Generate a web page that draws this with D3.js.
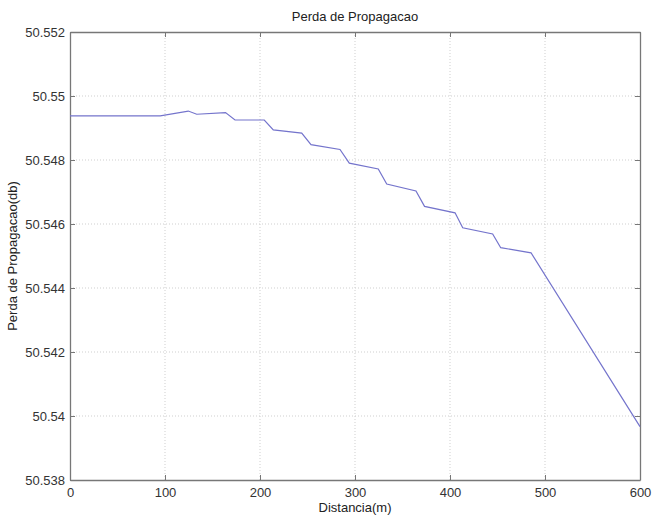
<!DOCTYPE html>
<html><head><meta charset="utf-8">
<script src="https://cdn.jsdelivr.net/npm/d3@7/dist/d3.min.js"></script>
<style>body{margin:0;background:#fff;}svg{display:block;font-family:"Liberation Sans",Arial,sans-serif;}</style>
</head><body>
<svg id="c" width="667" height="517"></svg>
<script>
const distancia = [0, 95, 124.5, 133.4, 163.7, 173.7, 204.5, 214, 243.9, 253.7, 284.2, 294, 324.5, 333.4, 364.2, 373.2, 405.3, 413.4, 444.9, 453.4, 485.3, 600];
const perda = [50.54938, 50.54938, 50.54953, 50.54943, 50.54948, 50.54925, 50.54925, 50.54894, 50.54884, 50.54848, 50.54833, 50.54790, 50.54772, 50.54725, 50.54703, 50.54655, 50.54635, 50.54588, 50.54569, 50.54526, 50.54510, 50.53967];
const xTicks = [0, 100, 200, 300, 400, 500, 600];
const yTicks = [50.538, 50.54, 50.542, 50.544, 50.546, 50.548, 50.55, 50.552];
const yTickLabels = ["50.538", "50.54", "50.542", "50.544", "50.546", "50.548", "50.55", "50.552"];

const svg = d3.select("#c");
const L = 70, R = 640, T = 32, B = 480;
const x = d3.scaleLinear().domain([0, 600]).range([L, R]);
const y = d3.scaleLinear().domain([50.538, 50.552]).range([B, T]);

// grid
const grid = svg.append("g");
grid.selectAll("line.gx").data(xTicks.slice(1, -1)).join("line")
  .attr("x1", d => x(d)).attr("x2", d => x(d)).attr("y1", T).attr("y2", B)
  .attr("stroke", "#cfcfcf").attr("stroke-width", 1).attr("stroke-dasharray", "1,2");
grid.selectAll("line.gy").data(yTicks.slice(1, -1)).join("line")
  .attr("y1", d => y(d)).attr("y2", d => y(d)).attr("x1", L).attr("x2", R)
  .attr("stroke", "#cfcfcf").attr("stroke-width", 1).attr("stroke-dasharray", "1,2");

// axes
const ax = svg.append("g").attr("transform", `translate(0,${B})`)
  .call(d3.axisBottom(x).tickValues(xTicks).tickSize(-5).tickSizeOuter(0).tickPadding(8));
const ay = svg.append("g").attr("transform", `translate(${L},0)`)
  .call(d3.axisLeft(y).tickValues(yTicks).tickFormat((d, i) => yTickLabels[i]).tickSize(-5).tickSizeOuter(0).tickPadding(5));
const axTop = svg.append("g").attr("transform", `translate(0,${T})`)
  .call(d3.axisTop(x).tickValues(xTicks).tickSize(-5).tickSizeOuter(0).tickFormat(""));
const ayR = svg.append("g").attr("transform", `translate(${R},0)`)
  .call(d3.axisRight(y).tickValues(yTicks).tickSize(-5).tickSizeOuter(0).tickFormat(""));
[ax, ay, axTop, ayR].forEach(g => {
  g.select(".domain").attr("stroke", "#777").attr("stroke-width", 1.3);
  g.selectAll(".tick line").attr("stroke", "#777");
  g.selectAll(".tick text").attr("fill", "#333").attr("font-size", 13);
});

// line
svg.append("path").datum(distancia.map((d, i) => [d, perda[i]]))
  .attr("fill", "none").attr("stroke", "#7474cc").attr("stroke-width", 1.2)
  .attr("d", d3.line().x(d => x(d[0])).y(d => y(d[1])));

// labels
svg.append("text").attr("x", (L + R) / 2).attr("y", 21).attr("text-anchor", "middle")
  .attr("font-size", 13).attr("fill", "#222").text("Perda de Propagacao");
svg.append("text").attr("x", (L + R) / 2).attr("y", 512).attr("text-anchor", "middle")
  .attr("font-size", 13).attr("fill", "#222").text("Distancia(m)");
svg.append("text").attr("transform", `translate(17,${(T + B) / 2}) rotate(-90)`).attr("text-anchor", "middle")
  .attr("font-size", 13).attr("fill", "#222").text("Perda de Propagacao(db)");
</script>
</body></html>
